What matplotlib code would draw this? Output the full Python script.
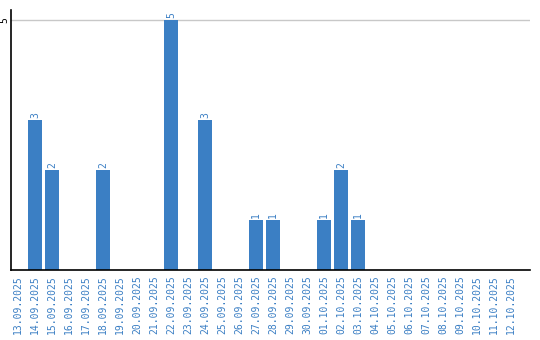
import matplotlib
matplotlib.use('Agg')
import matplotlib.pyplot as plt
import numpy as np

# daily counts, 13.09.2025 .. 12.10.2025
dates = ['13.09.2025', '14.09.2025', '15.09.2025', '16.09.2025', '17.09.2025',
         '18.09.2025', '19.09.2025', '20.09.2025', '21.09.2025', '22.09.2025',
         '23.09.2025', '24.09.2025', '25.09.2025', '26.09.2025', '27.09.2025',
         '28.09.2025', '29.09.2025', '30.09.2025', '01.10.2025', '02.10.2025',
         '03.10.2025', '04.10.2025', '05.10.2025', '06.10.2025', '07.10.2025',
         '08.10.2025', '09.10.2025', '10.10.2025', '11.10.2025', '12.10.2025']
counts = [0, 3, 2, 0, 0, 2, 0, 0, 0, 5,
          0, 3, 0, 0, 1, 1, 0, 0, 1, 2,
          1, 0, 0, 0, 0, 0, 0, 0, 0, 0]

BLUE = '#3b7fc4'
FONT = 'DejaVu Sans Mono'

fig = plt.figure(figsize=(5.4, 3.4), dpi=100)
ax = fig.add_axes([11 / 540, 70 / 340, 519 / 540, 260 / 340])

x = np.arange(len(dates))
bars = ax.bar(x, counts, width=0.82, color=BLUE, zorder=2)

for xi, v in zip(x, counts):
    if v > 0:
        ax.text(xi, v + 0.04, str(v), rotation=90, ha='center', va='bottom',
                color=BLUE, fontsize=7, family=FONT)

ax.set_xlim(-0.42, 30.1)
ax.set_ylim(0, 5.2)
ax.set_yticks([5])
ax.set_yticklabels(['5'], rotation=90, va='center', fontsize=7, family=FONT)
ax.axhline(5, color='#c8c8c8', lw=1, zorder=1)

ax.set_xticks(x)
ax.set_xticklabels(dates, rotation=90, fontsize=7, family=FONT, color=BLUE)
ax.tick_params(axis='x', length=0, pad=4)
ax.tick_params(axis='y', length=0, pad=1)

for s in ['top', 'right']:
    ax.spines[s].set_visible(False)
ax.spines['left'].set_linewidth(1.2)
ax.spines['bottom'].set_linewidth(1.2)

fig.savefig('out.png', dpi=100)
